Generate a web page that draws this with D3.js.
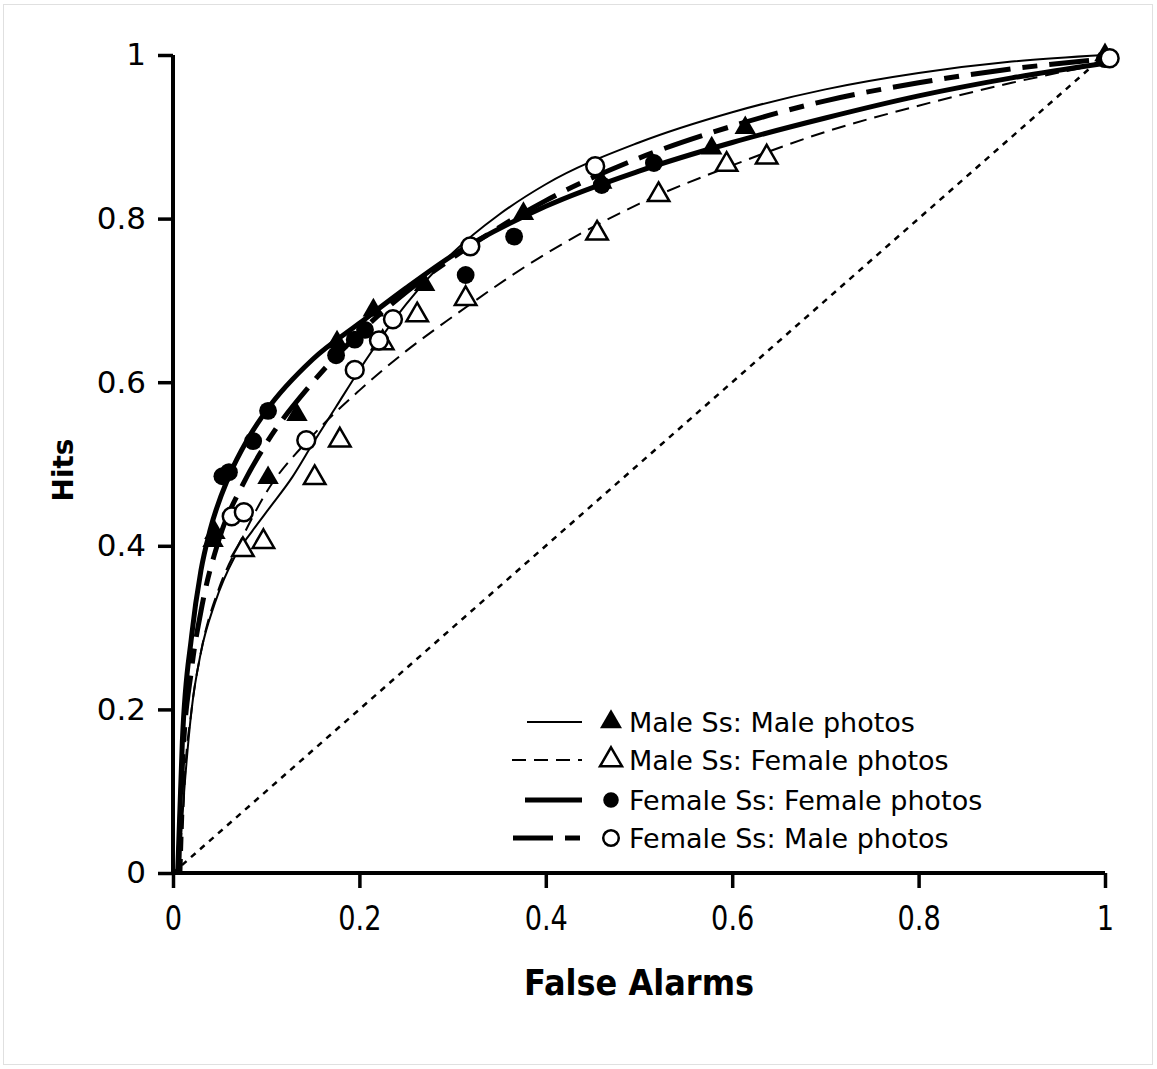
<!DOCTYPE html>
<html>
<head>
<meta charset="utf-8">
<script src="https://cdn.jsdelivr.net/npm/d3@7"></script>
<style>
  body { margin: 0; background: #fff; }
  text { font-family: "DejaVu Sans", Verdana, sans-serif; fill: #000; }
</style>
</head>
<body>
<script>
// fitted ROC curves (false alarm rate -> hit rate)
var mmX = [0.006, 0.012, 0.02, 0.03, 0.045, 0.066, 0.085, 0.104, 0.128, 0.15, 0.175, 0.2, 0.25, 0.3, 0.35, 0.4, 0.5, 0.6, 0.7, 0.8, 0.9, 1.0];
var mmY = [0, 0.1, 0.2, 0.27, 0.33, 0.386, 0.418, 0.447, 0.484, 0.525, 0.57, 0.615, 0.695, 0.758, 0.805, 0.842, 0.893, 0.93, 0.958, 0.978, 0.992, 1.0];

var mfX = [0.009, 0.012, 0.02, 0.03, 0.05, 0.07, 0.1, 0.15, 0.2, 0.25, 0.3, 0.4, 0.5, 0.6, 0.7, 0.8, 0.9, 1.0];
var mfY = [0, 0.1, 0.2, 0.27, 0.35, 0.40, 0.465, 0.535, 0.59, 0.638, 0.68, 0.757, 0.818, 0.865, 0.906, 0.938, 0.966, 0.99];

var ffX = [0.005, 0.01, 0.02, 0.03, 0.04, 0.06, 0.08, 0.1, 0.15, 0.2, 0.25, 0.3, 0.4, 0.5, 0.6, 0.7, 0.8, 0.9, 1.0];
var ffY = [0, 0.16, 0.29, 0.37, 0.42, 0.485, 0.53, 0.565, 0.628, 0.672, 0.715, 0.755, 0.815, 0.858, 0.893, 0.923, 0.95, 0.972, 0.99];

var fmX = [0.006, 0.01, 0.02, 0.03, 0.05, 0.075, 0.1, 0.15, 0.2, 0.25, 0.3, 0.4, 0.5, 0.6, 0.7, 0.8, 0.9, 1.0];
var fmY = [0, 0.13, 0.25, 0.32, 0.41, 0.475, 0.525, 0.6, 0.66, 0.71, 0.752, 0.822, 0.874, 0.913, 0.944, 0.966, 0.983, 0.995];

// observed points
var mmPtsX = [0.043, 0.045, 0.102, 0.133, 0.176, 0.215, 0.270, 0.376, 0.460, 0.578, 0.614, 1.0];
var mmPtsY = [0.406, 0.416, 0.483, 0.560, 0.649, 0.688, 0.719, 0.806, 0.844, 0.886, 0.911, 1.0];

var mfPtsX = [0.075, 0.097, 0.152, 0.179, 0.225, 0.262, 0.314, 0.455, 0.521, 0.594, 0.637];
var mfPtsY = [0.395, 0.405, 0.483, 0.529, 0.648, 0.682, 0.702, 0.782, 0.829, 0.866, 0.875];

var ffPtsX = [0.053, 0.060, 0.086, 0.102, 0.175, 0.195, 0.206, 0.314, 0.366, 0.460, 0.516, 1.0];
var ffPtsY = [0.485, 0.490, 0.528, 0.565, 0.633, 0.652, 0.664, 0.731, 0.778, 0.841, 0.868, 0.995];

var fmPtsX = [0.063, 0.076, 0.143, 0.195, 0.221, 0.236, 0.319, 0.453, 1.005];
var fmPtsY = [0.436, 0.441, 0.529, 0.615, 0.651, 0.677, 0.766, 0.864, 0.996];

var diagX = [0, 1];
var diagY = [0, 1];

var ticks = [0, 0.2, 0.4, 0.6, 0.8, 1];
var legendLabels = ["Male Ss: Male photos", "Male Ss: Female photos", "Female Ss: Female photos", "Female Ss: Male photos"];

var W = 1157, H = 1069;

var svg = d3.select("body").append("svg")
    .attr("width", W)
    .attr("height", H);

// faint frame round the chart
svg.append("rect")
    .attr("x", 3.5).attr("y", 4.5)
    .attr("width", 1149).attr("height", 1060)
    .attr("fill", "none")
    .attr("stroke", "#e0e0e0")
    .attr("stroke-width", 1);

var x = d3.scaleLinear().domain([0, 1]).range([173, 1105]);
var y = d3.scaleLinear().domain([0, 1]).range([873, 55]);

function zip(a, b) { return a.map(function (v, i) { return [v, b[i]]; }); }

var line = d3.line()
    .x(function (d) { return x(d[0]); })
    .y(function (d) { return y(d[1]); })
    .curve(d3.curveMonotoneX);

// chance diagonal
svg.append("path")
    .attr("d", d3.line().x(function (d) { return x(d[0]); }).y(function (d) { return y(d[1]); })(zip(diagX, diagY)))
    .attr("fill", "none")
    .attr("stroke", "#000")
    .attr("stroke-width", 2.5)
    .attr("stroke-dasharray", "6,6");

var series = [
    { key: "mm", xs: mmX, ys: mmY, px: mmPtsX, py: mmPtsY, width: 2, dash: null, sym: d3.symbolTriangle, fill: true },
    { key: "mf", xs: mfX, ys: mfY, px: mfPtsX, py: mfPtsY, width: 2, dash: "14,8", sym: d3.symbolTriangle, fill: false },
    { key: "ff", xs: ffX, ys: ffY, px: ffPtsX, py: ffPtsY, width: 5, dash: null, sym: d3.symbolCircle, fill: true },
    { key: "fm", xs: fmX, ys: fmY, px: fmPtsX, py: fmPtsY, width: 5, dash: "40,12,15,12", sym: d3.symbolCircle, fill: false }
];

// curves
series.forEach(function (s) {
    svg.append("path")
        .attr("d", line(zip(s.xs, s.ys)))
        .attr("fill", "none")
        .attr("stroke", "#000")
        .attr("stroke-width", s.width)
        .attr("stroke-dasharray", s.dash);
});

function symSize(s) { return s.sym === d3.symbolTriangle ? 200 : 250; }

// markers
series.forEach(function (s) {
    svg.append("g")
        .selectAll("path")
        .data(zip(s.px, s.py))
        .enter()
        .append("path")
        .attr("transform", function (d) { return "translate(" + x(d[0]) + "," + y(d[1]) + ")"; })
        .attr("d", d3.symbol().type(s.sym).size(symSize(s)))
        .attr("fill", s.fill ? "#000" : "#fff")
        .attr("stroke", "#000")
        .attr("stroke-width", s.fill ? 0 : 2.5);
});

// axes
var yAxis = svg.append("g")
    .attr("transform", "translate(173,0)")
    .call(d3.axisLeft(y).tickValues(ticks).tickSize(15).tickPadding(12).tickFormat(d3.format("")));
yAxis.select(".domain").attr("stroke-width", 4).attr("d", "M0," + y(0) + "V" + y(1));
yAxis.selectAll(".tick line").attr("stroke-width", 3.5);
yAxis.selectAll(".tick text").style("font-size", "31px").style("font-family", "'DejaVu Sans', Verdana, sans-serif");

var xAxis = svg.append("g")
    .attr("transform", "translate(0,873)")
    .call(d3.axisBottom(x).tickValues(ticks).tickSize(15).tickPadding(18).tickFormat(d3.format("")));
xAxis.select(".domain").attr("stroke-width", 4).attr("d", "M" + x(0) + ",0H" + x(1));
xAxis.selectAll(".tick line").attr("stroke-width", 3.5);
xAxis.selectAll(".tick text")
    .style("font-size", "34px")
    .style("font-family", "'DejaVu Sans', Verdana, sans-serif")
    .attr("transform", "scale(0.8,1)");

// axis titles
svg.append("text")
    .attr("transform", "translate(639,995) scale(0.89,1)")
    .attr("text-anchor", "middle")
    .style("font-size", "36px")
    .style("font-weight", "bold")
    .text("False Alarms");

svg.append("text")
    .attr("transform", "translate(73,470) rotate(-90)")
    .attr("text-anchor", "middle")
    .style("font-size", "28px")
    .style("font-weight", "bold")
    .text("Hits");

// legend
var legY = [722, 760, 800, 838];
var legStart = [527, 512, 525, 513];
series.forEach(function (s, i) {
    var g = svg.append("g");
    g.append("line")
        .attr("x1", legStart[i]).attr("x2", 582)
        .attr("y1", legY[i]).attr("y2", legY[i])
        .attr("stroke", "#000")
        .attr("stroke-width", s.width)
        .attr("stroke-dasharray", s.dash);
    g.append("path")
        .attr("transform", "translate(611," + legY[i] + ")")
        .attr("d", d3.symbol().type(s.sym).size(s.sym === d3.symbolTriangle ? 210 : 190))
        .attr("fill", s.fill ? "#000" : "#fff")
        .attr("stroke", "#000")
        .attr("stroke-width", s.fill ? 0 : 2.5);
    g.append("text")
        .attr("x", 629).attr("y", legY[i] + 10)
        .style("font-size", "27px")
        .text(legendLabels[i]);
});
</script>
</body>
</html>
